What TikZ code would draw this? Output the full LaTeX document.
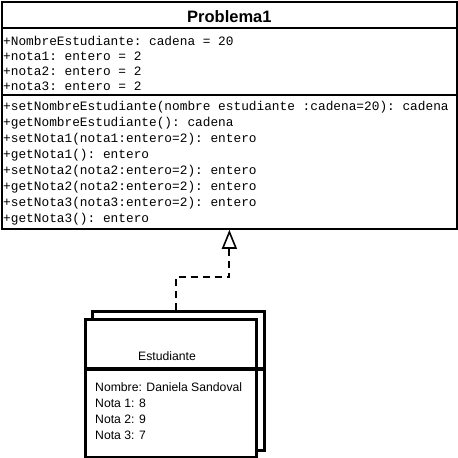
\documentclass[tikz,border=0pt]{standalone}
\usetikzlibrary{arrows.meta, positioning}
\usepackage{fontspec}
\setmainfont{Liberation Sans}
\setmonofont{Liberation Mono}

\begin{document}
\begin{tikzpicture}[x=1pt,y=-1pt,draw=black]
    \tikzstyle{clase}=[rectangle, draw=black, line width=1.8pt, fill=white, inner sep=0pt]
    \tikzstyle{objeto}=[rectangle, draw=black, line width=3.4pt, fill=white, inner sep=0pt]
    \tikzstyle{miembro}=[anchor=base west, inner sep=0pt, font=\ttfamily\fontsize{12.8}{15}\selectfont]
    \tikzstyle{valor}=[anchor=base west, inner sep=0pt, font=\fontsize{12.2}{15}\selectfont]
    \tikzstyle{herencia}=[dash pattern=on 7pt off 5pt, line width=2pt, -{Triangle[open, length=19pt, width=15pt, line width=1.6pt]}]

    \useasboundingbox (0,0) rectangle (458,458);

%   clase Problema1
    \node[clase, minimum width=455pt, minimum height=227pt, anchor=north west] (P) at (1,1) {};
    \draw[line width=1.6pt] (P.west |- 0,28) -- (P.east |- 0,28);
    \draw[line width=1.6pt] (P.west |- 0,95) -- (P.east |- 0,95);
    \node[anchor=base, inner sep=0pt, font=\bfseries\fontsize{16.5}{18}\selectfont] (T) at (P.north |- 0,22) {Problema1};

	\foreach \i/\txt in {0/{+NombreEstudiante: cadena = 20}, 1/{+nota1: entero = 2}, 2/{+nota2: entero = 2}, 3/{+nota3: entero = 2}}{
		\pgfmathsetmacro\y{45+\i*15.2}
		\node[miembro] (A-\i) at (3,\y) {\txt};
	}

	\foreach \i/\txt in {0/{+setNombreEstudiante(nombre estudiante :cadena=20): cadena}, 1/{+getNombreEstudiante(): cadena}, 2/{+setNota1(nota1:entero=2): entero}, 3/{+getNota1(): entero}, 4/{+setNota2(nota2:entero=2): entero}, 5/{+getNota2(nota2:entero=2): entero}, 6/{+setNota3(nota3:entero=2): entero}, 7/{+getNota3(): entero}}{
		\pgfmathsetmacro\y{110+\i*16}
		\node[miembro] (M-\i) at (3,\y) {\txt};
	}

%   objeto Estudiante
    \node[objeto, minimum width=172pt, minimum height=139pt, anchor=north west] (E-0) at (91,310) {};
    \node[objeto, minimum width=171pt, minimum height=138pt, anchor=north west] (E-1) at (84,318) {};
    \draw[line width=3.4pt] (E-1.west |- 0,369) -- (E-0.east |- 0,369);
    \node[valor, anchor=base] (N) at (167,360) {Estudiante};

	\foreach \i/\txt in {0/{Nombre: Daniela Sandoval}, 1/{Nota 1: 8}, 2/{Nota 2: 9}, 3/{Nota 3: 7}}{
		\pgfmathsetmacro\y{391+\i*16.3}
		\node[valor] (V-\i) at (95,\y) {\txt};
	}

    \draw[herencia] ([xshift=-3pt]E-0.north) -- ++(0,-33) -| (P.south);
\end{tikzpicture}
\end{document}
